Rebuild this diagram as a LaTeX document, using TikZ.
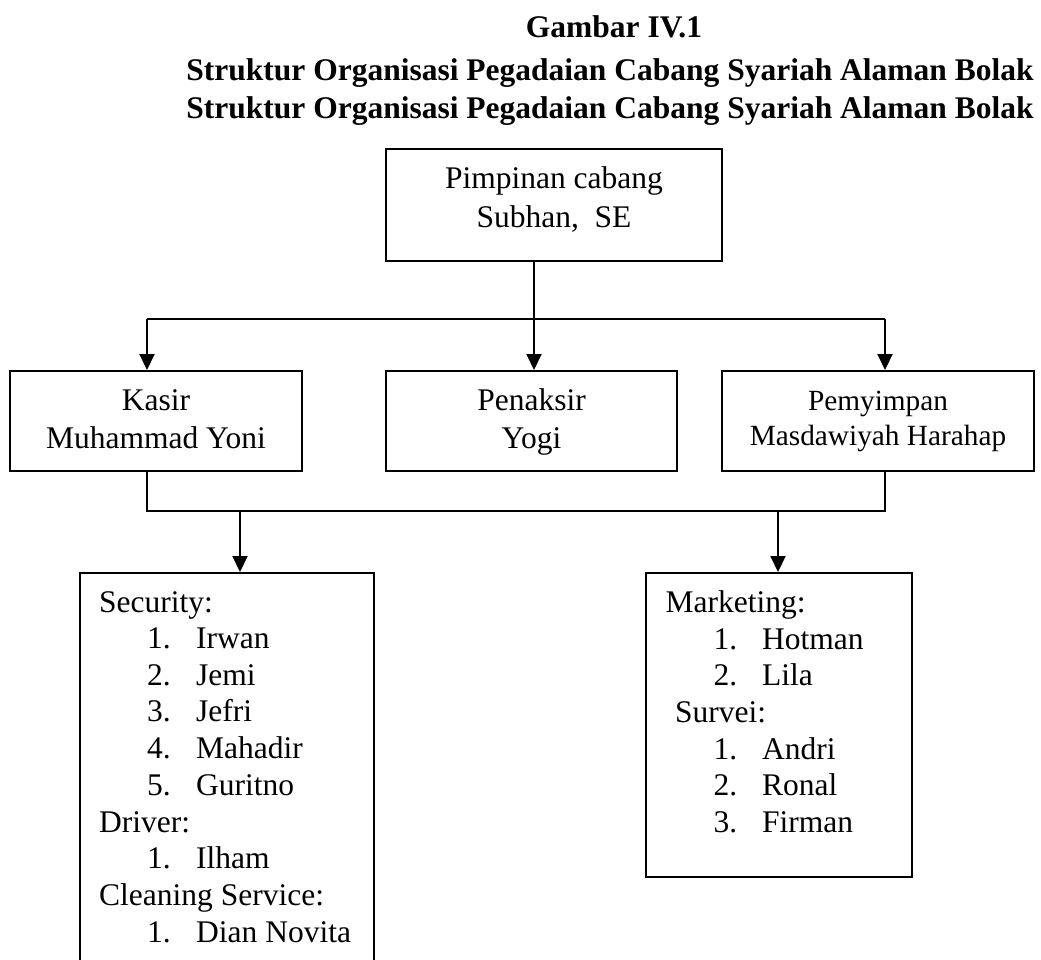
\documentclass[tikz,border=0pt]{standalone}
\usepackage{fontspec}
\setmainfont{Liberation Serif}
\usetikzlibrary{arrows.meta}
\newcommand\bodyfnt{\fontsize{31.5}{36}\selectfont}
\newcommand\smallfnt{\fontsize{29.3}{35}\selectfont}
\newcommand\titlefnt{\fontsize{31.5}{36}\selectfont\bfseries}
\begin{document}
\begin{tikzpicture}[x=1pt,y=-1pt,
  box/.style={draw,line width=2pt,rectangle,inner sep=0pt},
  lbl/.style={anchor=base,inner sep=0pt,font=\bodyfnt},
  lst/.style={anchor=base west,inner sep=0pt,font=\bodyfnt},
  conn/.style={line width=2pt},
  arr/.style={line width=2pt,-{Triangle[length=16pt,width=15pt]}}]
\useasboundingbox[fill=white] (0,0) rectangle (1041,959);

% title
\node[anchor=base,inner sep=0pt,font=\titlefnt] (t1) at (614,37) {Gambar IV.1};
\node[anchor=base,inner sep=0pt,font=\titlefnt] (t2) at (610,80) {Struktur Organisasi Pegadaian Cabang Syariah Alaman Bolak};
\node[anchor=base,inner sep=0pt,font=\titlefnt] (t3) at (610,118) {Struktur Organisasi Pegadaian Cabang Syariah Alaman Bolak};

% boxes
\node[box,minimum width=336pt,minimum height=112pt] (top) at (554,205) {};
\node[box,minimum width=292pt,minimum height=100pt] (kasir) at (156,421) {};
\node[box,minimum width=291pt,minimum height=100pt] (penaksir) at (531.5,421) {};
\node[box,minimum width=312pt,minimum height=100pt] (pemyimpan) at (878,421) {};
\node[box,minimum width=294pt,minimum height=417pt] (left) at (227,781.5) {};
\node[box,minimum width=266pt,minimum height=304pt] (right) at (779,725) {};

% box texts
\node[lbl] (top1) at (554,188) {Pimpinan cabang};
\node[lbl] (top2) at (554,227) {Subhan,\ \ SE};
\node[lbl] (kas1) at (156,410) {Kasir};
\node[lbl] (kas2) at (156,448) {Muhammad Yoni};
\node[lbl] (pen1) at (531.5,410) {Penaksir};
\node[lbl] (pen2) at (531.5,448) {Yogi};
\node[lbl,font=\smallfnt] (pem1) at (878,410) {Pemyimpan};
\node[lbl,font=\smallfnt] (pem2) at (878,445) {Masdawiyah Harahap};

% left list
\node[lst] (ls0) at (99,612.7) {Security:};
\node[lst] (ln1) at (147,648.5) {1.}; \node[lst] (lm1) at (196,648.5) {Irwan};
\node[lst] (ln2) at (147,685.2) {2.}; \node[lst] (lm2) at (196,685.2) {Jemi};
\node[lst] (ln3) at (147,721.9) {3.}; \node[lst] (lm3) at (196,721.9) {Jefri};
\node[lst] (ln4) at (147,758.6) {4.}; \node[lst] (lm4) at (196,758.6) {Mahadir};
\node[lst] (ln5) at (147,795.3) {5.}; \node[lst] (lm5) at (196,795.3) {Guritno};
\node[lst] (ls1) at (99,832) {Driver:};
\node[lst] (ln6) at (147,868.7) {1.}; \node[lst] (lm6) at (196,868.7) {Ilham};
\node[lst] (ls2) at (99,905.4) {Cleaning Service:};
\node[lst] (ln7) at (147,942.1) {1.}; \node[lst] (lm7) at (196,942.1) {Dian Novita};

% right list
\node[lst] (rs0) at (665.5,612.7) {Marketing:};
\node[lst] (rn1) at (713.5,649.3) {1.}; \node[lst] (rm1) at (762,649.3) {Hotman};
\node[lst] (rn2) at (713.5,685.9) {2.}; \node[lst] (rm2) at (762,685.9) {Lila};
\node[lst] (rs1) at (675,722.5) {Survei:};
\node[lst] (rn3) at (713.5,759.1) {1.}; \node[lst] (rm3) at (762,759.1) {Andri};
\node[lst] (rn4) at (713.5,795.7) {2.}; \node[lst] (rm4) at (762,795.7) {Ronal};
\node[lst] (rn5) at (713.5,832.3) {3.}; \node[lst] (rm5) at (762,832.3) {Firman};

% connectors
\coordinate (hL) at (147,319);
\coordinate (hM) at (534,319);
\coordinate (hR) at (885,319);
\draw[conn] (top.south -| hM) -- (hM);
\draw[conn] (hL) -- (hR);
\draw[arr] (hL) -- (hL |- kasir.north);
\draw[arr] (hM) -- (hM |- penaksir.north);
\draw[arr] (hR) -- (hR |- pemyimpan.north);
\coordinate (bL) at (147,511);
\coordinate (bR) at (885,511);
\draw[conn] (kasir.south -| bL) -- (bL) -- (bR) -- (pemyimpan.south -| bR);
\coordinate (aL) at (240,511);
\coordinate (aR) at (778,511);
\draw[arr] (aL) -- (aL |- left.north);
\draw[arr] (aR) -- (aR |- right.north);
\end{tikzpicture}
\end{document}
